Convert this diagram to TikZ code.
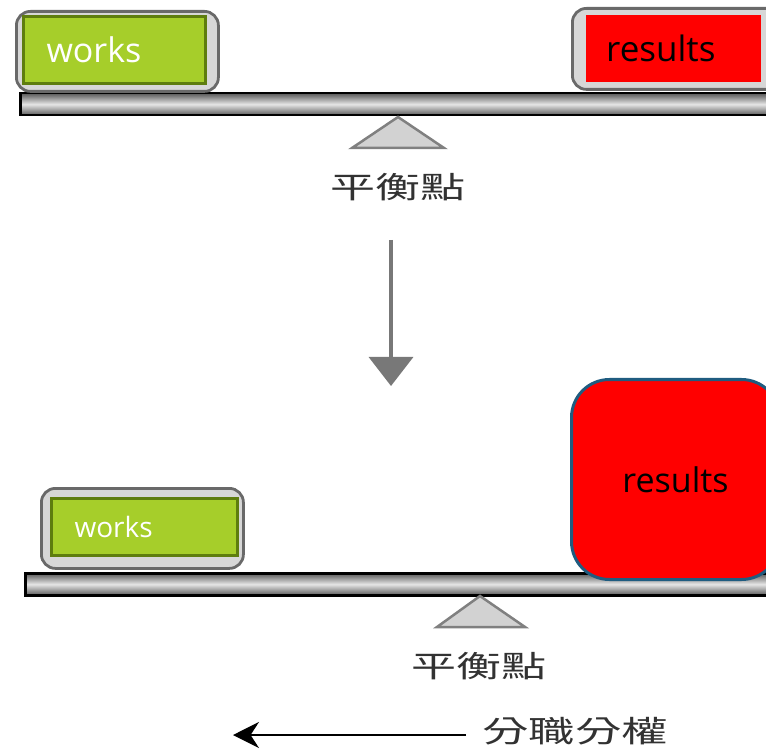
\documentclass[tikz,border=0pt]{standalone}
\usepackage{fontspec}
\setmainfont{Open Sans}
\newfontfamily\cjk{Noto Sans CJK TC}
\usetikzlibrary{arrows.meta}
\definecolor{wgreen}{RGB}{166,206,42}
\definecolor{wgreenb}{RGB}{94,125,14}
\definecolor{rblue}{RGB}{31,92,128}
\definecolor{outg}{RGB}{105,105,105}
\definecolor{infill}{RGB}{215,215,215}
\definecolor{cjktext}{RGB}{50,50,50}
\definecolor{arrg}{RGB}{120,120,120}
\definecolor{pivotb}{RGB}{128,128,128}
\definecolor{pivotf}{RGB}{210,210,210}
\begin{document}
\begin{tikzpicture}[x=1pt,y=-1pt,
  holder/.style={draw=outg,fill=infill,line width=2.8pt,rounded corners=14pt,anchor=north west,inner sep=0pt},
  wbox/.style={draw=wgreenb,fill=wgreen,line width=3pt,anchor=north west,inner ysep=0pt,align=left,text=white},
  rbox/.style={fill=red,anchor=north west,inner ysep=0pt,align=left,text=black},
  beam/.style={draw=black,line width=2.5pt,anchor=north west,inner sep=0pt,top color=black!65,bottom color=black!65,middle color=white!90!black},
  pivot/.style={draw=pivotb,fill=pivotf,line width=2.5pt,line join=miter},
  cjklab/.style={font=\cjk\fontsize{30}{32}\selectfont,text=cjktext,inner sep=0pt}
]
\useasboundingbox (0,0) rectangle (766,751);
\clip (0,0) rectangle (766,751);

% ---------- top scale ----------
\node[beam,minimum width=770pt,minimum height=22pt] (beam1) at (19,92) {};
\node[holder,minimum width=202pt,minimum height=80pt] (h1) at (15,10) {};
\node[wbox,minimum height=67pt,text width=136pt,inner xsep=23pt,font=\fontsize{34}{36}\selectfont] (w1) at (22,15) {works};
\node[holder,minimum width=210pt,minimum height=81pt] (h2) at (571,7) {};
\node[rbox,minimum height=67pt,text width=135pt,inner xsep=20pt,font=\fontsize{35}{36}\selectfont] (r1) at (586,15) {results};
\coordinate (p1) at (398,117);
\draw[pivot] (p1) -- (352,148) -- (444,148) -- cycle;
\node[cjklab] (t1) at (398,187) {\scalebox{1.5}[1]{平衡點}};

% ---------- down arrow ----------
\coordinate (a1) at (391,240);
\coordinate (a2) at (391,386);
\draw[draw=arrg,line width=3.5pt,-{Triangle[length=29pt,width=44pt]}] (a1) -- (a2);

% ---------- bottom scale ----------
\node[beam,minimum width=770pt,minimum height=22pt] (beam2) at (24,572) {};
\node[holder,minimum width=202pt,minimum height=80pt] (h3) at (40,487) {};
\node[wbox,minimum height=57pt,text width=140pt,inner xsep=23pt,font=\fontsize{28}{30}\selectfont] (w2) at (50,497) {works};
\node[draw=rblue,fill=red,line width=3pt,rounded corners=38pt,anchor=north west,minimum width=208pt,minimum height=200pt,inner sep=0pt,font=\fontsize{34}{36}\selectfont] (r2) at (570,378) {results};
\coordinate (p2) at (480,596);
\draw[pivot] (p2) -- (437,627) -- (525,627) -- cycle;
\node[cjklab] (t2) at (479,666) {\scalebox{1.5}[1]{平衡點}};

% ---------- left arrow ----------
\node[cjklab,anchor=west] (t3) at (482,731) {\scalebox{1.55}[1]{分職分權}};
\coordinate (a3) at (233,735);
\draw[black,line width=1.5pt,-{Stealth[length=26pt,width=26pt]}] (466,735) -- (a3);
\end{tikzpicture}
\end{document}
